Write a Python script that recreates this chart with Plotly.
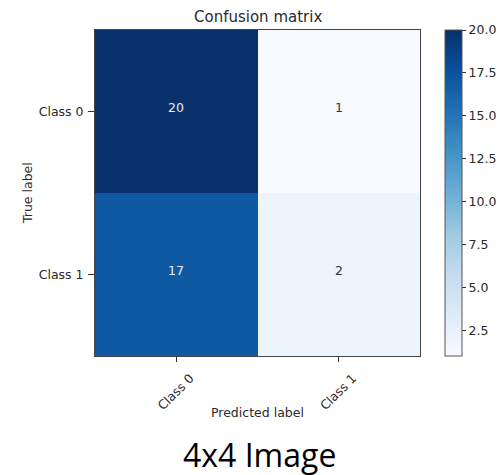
import plotly.graph_objects as go

classes = ["Class 0", "Class 1"]
true_labels = ["Class 0", "Class 1"]
matrix = [[20, 1], [17, 2]]
cbar_ticks = [2.5, 5.0, 7.5, 10.0, 12.5, 15.0, 17.5, 20.0]

W, H = 502, 475
x0, x1 = 95, 420
y0, y1 = 30, 356

def px(x):
    return x / W

def py(y):
    return 1 - y / H

FONT = "DejaVu Sans"
TXT = "#2a2a2a"

fig = go.Figure()
fig.add_trace(go.Heatmap(
    z=matrix,
    x=list(range(len(classes))),
    y=list(range(len(true_labels))),
    colorscale="Blues",
    zmin=1, zmax=20,
    showscale=True,
    hoverinfo="skip",
    colorbar=dict(
        x=px(445), xanchor="left",
        y=py(y1), yanchor="bottom",
        len=(y1 - y0) / H, lenmode="fraction",
        thickness=17, thicknessmode="pixels",
        outlinewidth=1, outlinecolor="#555555",
        xpad=0, ypad=0,
        tickvals=cbar_ticks,
        ticktext=[f"{v:.1f}" for v in cbar_ticks],
        ticks="outside", ticklen=4, tickcolor="#333333",
        tickfont=dict(family=FONT, size=12.5, color=TXT),
    ),
))

thresh = (max(max(r) for r in matrix) + min(min(r) for r in matrix)) / 2
for i, row in enumerate(matrix):
    for j, v in enumerate(row):
        fig.add_annotation(
            x=j, y=i, xref="x", yref="y", text=str(v), showarrow=False,
            yshift=4,
            font=dict(family=FONT, size=12.5,
                      color="#e6ecf5" if v > thresh else "#333333"),
        )

fig.update_xaxes(
    domain=[px(x0), px(x1)], range=[-0.5, 1.5],
    tickvals=[0, 1], ticktext=classes, tickangle=-45,
    ticks="outside", ticklen=5, tickcolor="#333333",
    ticklabelshift=14, ticklabelstandoff=4,
    tickfont=dict(family=FONT, size=12.5, color=TXT),
    showline=True, mirror=True, linecolor="#444444", linewidth=1,
    showgrid=False, zeroline=False, fixedrange=True,
)
fig.update_yaxes(
    domain=[py(y1), py(y0)], range=[1.5, -0.5],
    tickvals=[0, 1], ticktext=true_labels,
    ticks="outside", ticklen=6, tickcolor="#333333",
    ticklabelstandoff=2,
    tickfont=dict(family=FONT, size=12.5, color=TXT),
    showline=True, mirror=True, linecolor="#444444", linewidth=1,
    showgrid=False, zeroline=False, fixedrange=True,
)

fig.add_annotation(text="Confusion matrix", xref="paper", yref="paper",
                   x=px(257.5), y=py(17), showarrow=False,
                   xanchor="center", yanchor="middle",
                   font=dict(family=FONT, size=15, color=TXT))
fig.add_annotation(text="Predicted label", xref="paper", yref="paper",
                   x=px(257.5), y=py(412), showarrow=False,
                   xanchor="center", yanchor="middle",
                   font=dict(family=FONT, size=12.5, color=TXT))
fig.add_annotation(text="True label", xref="paper", yref="paper",
                   x=px(27), y=py(193), showarrow=False, textangle=-90,
                   xanchor="center", yanchor="middle",
                   font=dict(family=FONT, size=12.5, color=TXT))
fig.add_annotation(text="4x4 Image", xref="paper", yref="paper",
                   x=px(259.5), y=py(454.5), showarrow=False,
                   xanchor="center", yanchor="middle", borderpad=0,
                   font=dict(family="Open Sans", size=32, color="#000000"))

fig.update_layout(
    width=W, height=H,
    margin=dict(l=0, r=0, t=0, b=0),
    paper_bgcolor="white", plot_bgcolor="white",
    showlegend=False,
)

fig.write_html(
    "out.html",
    config={"displayModeBar": False, "staticPlot": True},
    post_script="document.body.style.margin='0';document.body.style.overflow='hidden';",
)
